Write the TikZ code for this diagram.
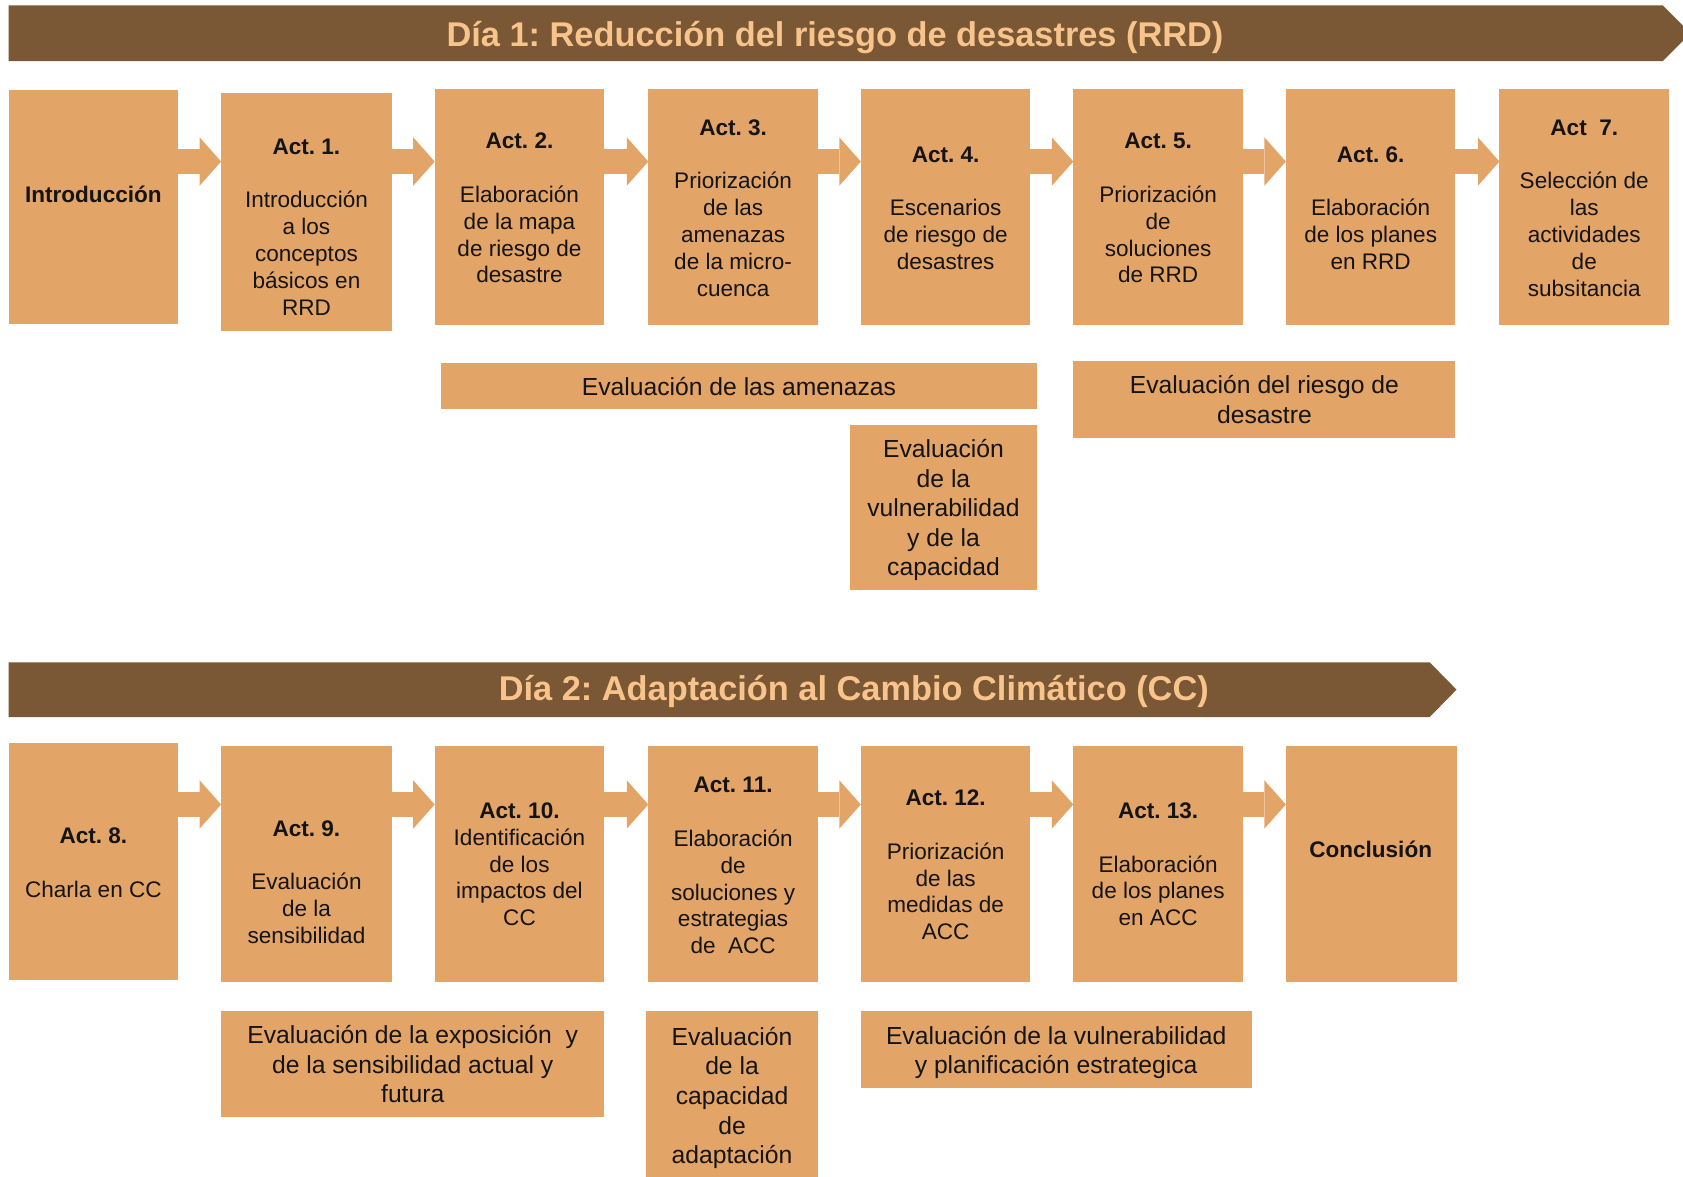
\documentclass[tikz,border=0pt]{standalone}
\usepackage{fontspec}
\setmainfont{Liberation Sans}
\usetikzlibrary{arrows.meta,fit}
\definecolor{boxtan}{HTML}{E3A468}
\definecolor{barbrown}{HTML}{7B5835}
\definecolor{titlepeach}{HTML}{F8C48C}
\definecolor{inktext}{HTML}{141414}
\frenchspacing
\begin{document}
\begin{tikzpicture}[x=1pt,y=-1pt,
  panel/.style={fill=boxtan, draw=none, inner sep=0pt, outer sep=0pt},
  acttext/.style={align=center, inner sep=0pt, yshift=-3pt, text=inktext, font=\fontsize{21}{25}\selectfont},
  evaltext/.style={align=center, inner sep=0pt, yshift=-3pt, text=inktext, font=\fontsize{23}{27.5}\selectfont},
  daytitle/.style={anchor=base, inner sep=0pt, text=titlepeach, font=\fontsize{32}{38}\selectfont\bfseries},
  flow/.style={draw=boxtan, line width=23pt, -{Triangle[length=20pt,width=45pt,line width=0pt]}},
]
\useasboundingbox (0,0) rectangle (1568,1096);

% ---------- Day 1 banner ----------
\fill[barbrown] (8,5) -- (1549,5) -- (1575,31) -- (1549,57) -- (8,57) -- cycle;
\node[daytitle] (day1) at (778,43) {Día 1: Reducción del riesgo de desastres (RRD)};

% Day 1 activity panels
\node[panel, fit={(8,84) (166,302)}]     (intro) {};
\node[panel, fit={(206,87) (365,308)}]   (a1) {};
\node[panel, fit={(405,83) (563,303)}]   (a2) {};
\node[panel, fit={(604,83) (762,303)}]   (a3) {};
\node[panel, fit={(802,83) (960,303)}]   (a4) {};
\node[panel, fit={(1000,83) (1158,303)}] (a5) {};
\node[panel, fit={(1198,83) (1356,303)}] (a6) {};
\node[panel, fit={(1397,83) (1555,303)}] (a7) {};

\node[acttext] (tintro) at (87,181) {\strut\textbf{Introducción}\strut};
\node[acttext] (t1) at (285.5,210.5) {\strut\textbf{Act. 1.}\\[25pt]Introducción\\a los\\conceptos\\básicos en\\RRD\strut};
\node[acttext] (t2) at (484,193) {\strut\textbf{Act. 2.}\\[25pt]Elaboración\\de la mapa\\de riesgo de\\desastre\strut};
\node[acttext] (t3) at (683,193) {\strut\textbf{Act. 3.}\\[25pt]Priorización\\de las\\amenazas\\de la micro-\\cuenca\strut};
\node[acttext] (t4) at (881,193) {\strut\textbf{Act. 4.}\\[25pt]Escenarios\\de riesgo de\\desastres\strut};
\node[acttext] (t5) at (1079,193) {\strut\textbf{Act. 5.}\\[25pt]Priorización\\de\\soluciones\\de RRD\strut};
\node[acttext] (t6) at (1277,193) {\strut\textbf{Act. 6.}\\[25pt]Elaboración\\de los planes\\en RRD\strut};
\node[acttext] (t7) at (1476,193) {\strut\textbf{Act~~7.}\\[25pt]Selección de\\las\\actividades\\de\\subsitancia\strut};

\coordinate (rowA) at (0,150.5);
\draw[flow] (intro.east |- rowA) -- (a1.west |- rowA);
\draw[flow] (a1.east |- rowA) -- (a2.west |- rowA);
\draw[flow] (a2.east |- rowA) -- (a3.west |- rowA);
\draw[flow] (a3.east |- rowA) -- (a4.west |- rowA);
\draw[flow] (a4.east |- rowA) -- (a5.west |- rowA);
\draw[flow] (a5.east |- rowA) -- (a6.west |- rowA);
\draw[flow] (a6.east |- rowA) -- (a7.west |- rowA);

% Day 1 assessment panels
\node[panel, fit={(411,338) (966,381)}]   (ev1) {};
\node[evaltext] at (ev1.center) {\strut Evaluación de las amenazas\strut};
\node[panel, fit={(1000,336) (1356,408)}] (ev2) {};
\node[evaltext] at (ev2.center) {\strut Evaluación del riesgo de\\desastre\strut};
\node[panel, fit={(792,396) (966,550)}]   (ev3) {};
\node[evaltext] at (ev3.center) {\strut Evaluación\\de la\\vulnerabilidad\\y de la\\capacidad\strut};

% ---------- Day 2 banner ----------
\fill[barbrown] (8,617) -- (1332,617) -- (1357,642.5) -- (1332,668) -- (8,668) -- cycle;
\node[daytitle] (day2) at (795.5,653) {Día 2: Adaptación al Cambio Climático (CC)};

% Day 2 activity panels
\node[panel, fit={(8,692) (166,913)}]     (a8) {};
\node[panel, fit={(206,695) (365,915)}]   (a9) {};
\node[panel, fit={(405,695) (563,915)}]   (a10) {};
\node[panel, fit={(604,695) (762,915)}]   (a11) {};
\node[panel, fit={(802,695) (960,915)}]   (a12) {};
\node[panel, fit={(1000,695) (1158,915)}] (a13) {};
\node[panel, fit={(1198,695) (1357,915)}] (concl) {};

\node[acttext] (t8) at (87,803) {\strut\textbf{Act. 8.}\\[25pt]Charla en CC\strut};
\node[acttext] (t9) at (285.5,821) {\strut\textbf{Act. 9.}\\[25pt]Evaluación\\de la\\sensibilidad\strut};
\node[acttext] (t10) at (484,804.5) {\strut\textbf{Act. 10.}\\Identificación\\de los\\impactos del\\CC\strut};
\node[acttext] (t11) at (683,805.5) {\strut\textbf{Act. 11.}\\[25pt]Elaboración\\de\\soluciones y\\estrategias\\de~~ACC\strut};
\node[acttext] (t12) at (881,805) {\strut\textbf{Act. 12.}\\[25pt]Priorización\\de las\\medidas de\\ACC\strut};
\node[acttext] (t13) at (1079,804.5) {\strut\textbf{Act. 13.}\\[25pt]Elaboración\\de los planes\\en ACC\strut};
\node[acttext] (tconcl) at (1277,791) {\strut\textbf{Conclusión}\strut};

\coordinate (rowB) at (0,749.5);
\draw[flow] (a8.east |- rowB) -- (a9.west |- rowB);
\draw[flow] (a9.east |- rowB) -- (a10.west |- rowB);
\draw[flow] (a10.east |- rowB) -- (a11.west |- rowB);
\draw[flow] (a11.east |- rowB) -- (a12.west |- rowB);
\draw[flow] (a12.east |- rowB) -- (a13.west |- rowB);
\draw[flow] (a13.east |- rowB) -- (concl.west |- rowB);

% Day 2 assessment panels
\node[panel, fit={(206,942) (563,1041)}]  (ev4) {};
\node[evaltext] at (ev4.center) {\strut Evaluación de la exposición~~y\\de la sensibilidad actual y\\futura\strut};
\node[panel, fit={(602,942) (762,1100)}]  (ev5) {};
\node[evaltext] at (682,1020.5) {\strut Evaluación\\de la\\capacidad\\de\\adaptación\strut};
\node[panel, fit={(802,942) (1166,1014)}] (ev6) {};
\node[evaltext] at (ev6.center) {\strut Evaluación de la vulnerabilidad\\y planificación estrategica\strut};
\end{tikzpicture}
\end{document}
